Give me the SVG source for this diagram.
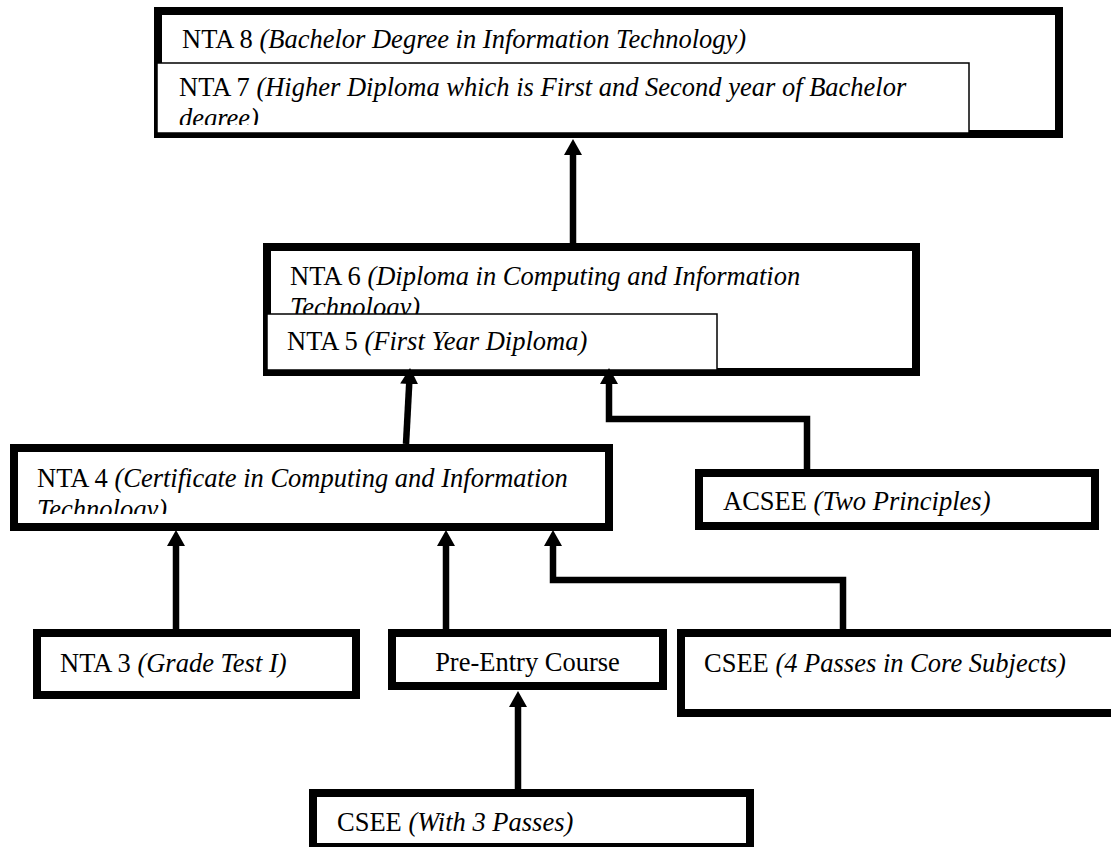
<svg xmlns="http://www.w3.org/2000/svg" width="1111" height="847" viewBox="0 0 1111 847">
<style>
.box{fill:#fff;stroke:#000;stroke-width:8}
.thin{fill:#fff;stroke:#000;stroke-width:1.5}
.t{font-family:"Liberation Serif","Times New Roman",serif;font-size:26.5px;fill:#000}
.i{font-style:italic}
.c{fill:none;stroke:#000;stroke-width:6.5;stroke-linejoin:miter}
</style>
<defs>
<marker id="ah" viewBox="0 0 16 18" markerWidth="16" markerHeight="18" refX="4" refY="9" orient="auto" markerUnits="userSpaceOnUse">
<path d="M0,0 L16,9 L0,18 z" fill="#000"/>
</marker>
<clipPath id="c7"><rect x="157" y="63" width="812" height="62"/></clipPath>
<clipPath id="c4"><rect x="14" y="448" width="595" height="66"/></clipPath>
</defs>
<rect width="1111" height="847" fill="#fff"/>
<g id="nta8">
<rect class="box" x="158" y="11" width="901" height="123"/>
<text class="t" x="182" y="48">NTA 8 <tspan class="i">(Bachelor Degree in Information Technology)</tspan></text>
</g>
<g id="nta7">
<rect class="thin" x="157" y="63" width="812" height="70"/>
<text class="t" clip-path="url(#c7)" x="179" y="96">NTA 7 <tspan class="i">(Higher Diploma which is First and Second year of Bachelor</tspan><tspan class="i" x="179" y="127">degree)</tspan></text>
</g>
<g id="nta6">
<rect class="box" x="267" y="247" width="649" height="125"/>
<text class="t" x="290" y="285">NTA 6 <tspan class="i">(Diploma in Computing and Information</tspan><tspan class="i" x="290" y="316">Technology)</tspan></text>
</g>
<g id="nta5">
<rect class="thin" x="267" y="314" width="450" height="56"/>
<text class="t" x="287" y="350">NTA 5 <tspan class="i">(First Year Diploma)</tspan></text>
</g>
<g id="nta4">
<rect class="box" x="14" y="448" width="595" height="79"/>
<text class="t" clip-path="url(#c4)" x="37" y="487">NTA 4 <tspan class="i">(Certificate in Computing and Information</tspan><tspan class="i" x="37" y="518">Technology)</tspan></text>
</g>
<g id="acsee">
<rect class="box" x="699" y="473" width="396" height="53"/>
<text class="t" x="723" y="510">ACSEE <tspan class="i">(Two Principles)</tspan></text>
</g>
<g id="nta3">
<rect class="box" x="37" y="633" width="319" height="62"/>
<text class="t" x="60" y="672">NTA 3 <tspan class="i">(Grade Test I)</tspan></text>
</g>
<g id="preentry">
<rect class="box" x="392" y="633" width="271" height="53"/>
<text class="t" x="527.5" y="671" text-anchor="middle">Pre-Entry Course</text>
</g>
<g id="csee4">
<rect class="box" x="681" y="633" width="450" height="80"/>
<text class="t" x="704" y="672">CSEE <tspan class="i">(4 Passes in Core Subjects)</tspan></text>
</g>
<g id="csee3">
<rect class="box" x="313" y="793" width="437" height="54"/>
<text class="t" x="337" y="831">CSEE <tspan class="i">(With 3 Passes)</tspan></text>
</g>
<g id="connectors">
<path class="c" marker-end="url(#ah)" d="M573,243 L573,151"/>
<path class="c" marker-end="url(#ah)" d="M406,444 L409.4,380"/>
<path class="c" marker-end="url(#ah)" d="M807,469 L807,419 L609,419 L609,380"/>
<path class="c" marker-end="url(#ah)" d="M176,629 L176,542"/>
<path class="c" marker-end="url(#ah)" d="M446,629 L446,542"/>
<path class="c" marker-end="url(#ah)" d="M843,629 L843,580 L553,580 L553,542"/>
<path class="c" marker-end="url(#ah)" d="M518,789 L518,703"/>
</g>
</svg>
